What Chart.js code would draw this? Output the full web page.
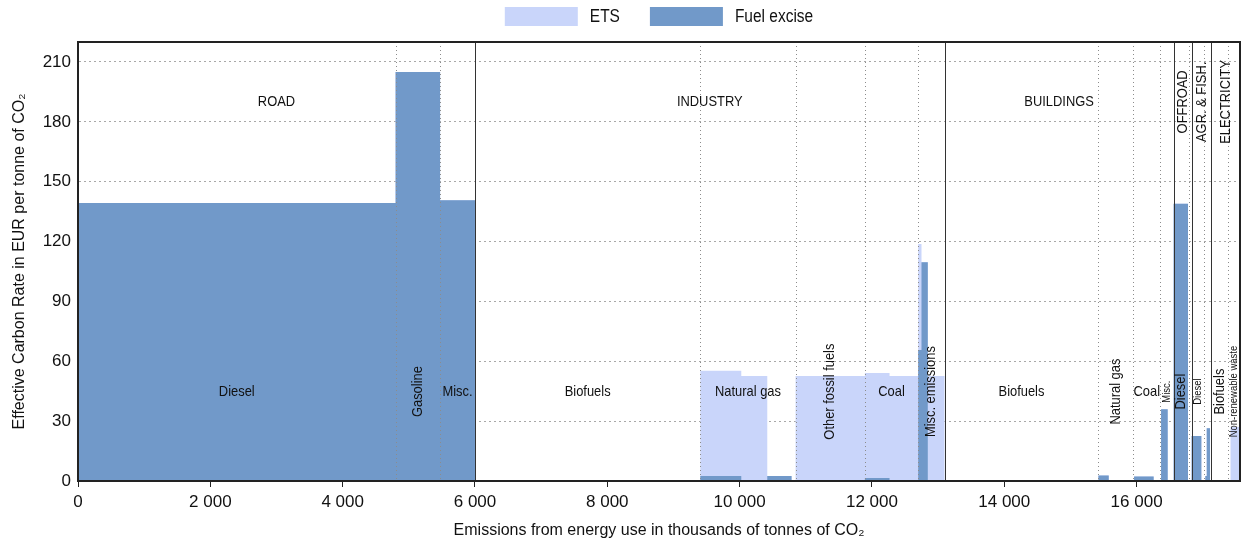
<!DOCTYPE html>
<html>
<head>
<meta charset="utf-8">
<script src="https://cdn.jsdelivr.net/npm/chart.js@4.4.1/dist/chart.umd.min.js"></script>
<style>
  html, body { margin: 0; padding: 0; background: #fff; }
  #wrap { width: 1242px; height: 545px; }
</style>
</head>
<body>
<div id="wrap"><canvas id="ecr" width="1242" height="545"></canvas></div>
<script>
// emissions axis (thousand t CO2): each segment starts at segStart and runs to the next one
const xEnd = 17563;
const segStart = [0, 4800, 5473, 6000, 9406, 10025, 10418, 10785, 10846, 11893, 12266, 12699, 12749, 12844,
	13097, 15423, 15579, 15962, 16258, 16370, 16470, 16560, 16777, 16832, 16979, 17039, 17060, 17110, 17420];
const exciseRate = [139.3, 205, 140.7, 0, 2.5, 0, 2.5, 0, 0, 1.5, 0, 65.6, 109.6, 0,
	0, 2.7, 0, 2.2, 0, 35.9, 0, 139, 0, 22.5, 0, 2.5, 26.4, 0, 0];
const etsRate = [0, 0, 0, 0, 52.8, 52.6, 0, 0, 52.6, 52.6, 52.6, 53.2, 0, 52.6,
	0, 0, 0, 0, 0, 0, 0, 0, 0, 0, 0, 0, 0, 0, 27];

// sectors
const sectorNames = ['ROAD', 'INDUSTRY', 'BUILDINGS', 'OFFROAD', 'AGR. & FISH.', 'ELECTRICITY'];
const sectorStart = [0, 6000, 13097, 16560, 16832, 17130];

// fuels inside the sectors
const fuelNames = ['Diesel', 'Gasoline', 'Misc.',
	'Biofuels', 'Natural gas', 'Other fossil fuels', 'Coal', 'Misc. emissions',
	'Biofuels', 'Natural gas', 'Coal', 'Misc.',
	'Diesel', '',
	'Diesel', '',
	'Biofuels', 'Non-renewable waste'];
const fuelStart = [0, 4800, 5473,
	6000, 9406, 10846, 11893, 12699,
	13097, 15423, 15952, 16355,
	16560, 16786,
	16832, 17024,
	17130, 17381];

const yTicks = [0, 30, 60, 90, 120, 150, 180, 210];
const xTicks = [0, 2000, 4000, 6000, 8000, 10000, 12000, 14000, 16000];

// label style: 'h' horizontal, 'v' vertical, 's' small vertical
const fuelLabelMode = ['h', 'v', 'h', 'h', 'h', 'v', 'h', 'v', 'h', 'v', 'h', 's', 'v', 'h', 's', 'h', 'v', 's'];
const sectorLabelMode = ['h', 'h', 'h', 'v', 'v', 'v'];

const FONT = "'Liberation Sans', Arial, sans-serif";
const colEts = '#c9d5fa';
const colExcise = '#7199c9';

function steps(values) {
	const pts = segStart.map((s, i) => ({x: s, y: values[i]}));
	pts.push({x: xEnd, y: values[values.length - 1]});
	return pts;
}
const totalRate = exciseRate.map((v, i) => v + etsRate[i]);

function fmt(v) {
	return String(v).replace(/\B(?=(\d{3})+(?!\d))/g, ' ');
}

// narrow-looking text (the original uses a condensed face)
function narrowText(c, text, x, y, size, vertical, align) {
	c.save();
	c.translate(x, y);
	if (vertical) c.rotate(-Math.PI / 2);
	c.scale(0.86, 1);
	c.font = size + 'px ' + FONT;
	c.textAlign = align || 'center';
	c.textBaseline = 'middle';
	c.fillText(text, 0, 0);
	c.restore();
}
function narrowWidth(c, text, size) {
	c.save();
	c.font = size + 'px ' + FONT;
	const w = c.measureText(text).width * 0.86;
	c.restore();
	return w;
}

const overlay = {
	id: 'overlay',
	afterDatasetsDraw(chart) {
		const c = chart.ctx;
		const xs = chart.scales.x, ys = chart.scales.y;
		const a = chart.chartArea;
		c.save();
		// dotted fuel boundaries
		c.strokeStyle = '#8c8c8c';
		c.lineWidth = 1;
		c.setLineDash([1, 3]);
		fuelStart.forEach(v => {
			if (sectorStart.includes(v)) return;
			const px = Math.round(xs.getPixelForValue(v)) + 0.5;
			c.beginPath(); c.moveTo(px, a.top); c.lineTo(px, a.bottom); c.stroke();
		});
		// solid sector boundaries
		c.setLineDash([]);
		c.strokeStyle = '#333';
		sectorStart.forEach(v => {
			if (v === 0) return;
			const px = Math.round(xs.getPixelForValue(v)) + 0.5;
			c.beginPath(); c.moveTo(px, a.top); c.lineTo(px, a.bottom); c.stroke();
		});
		// frame
		c.lineWidth = 2;
		c.strokeStyle = '#222';
		c.strokeRect(a.left, a.top, a.right - a.left, a.bottom - a.top);

		c.fillStyle = '#111';
		// sector labels
		sectorNames.forEach((name, i) => {
			const end = i < sectorStart.length - 1 ? sectorStart[i + 1] : xEnd;
			const px = xs.getPixelForValue((sectorStart[i] + end) / 2);
			narrowText(c, name, px, ys.getPixelForValue(190), 15, sectorLabelMode[i] === 'v');
		});
		// fuel labels
		fuelNames.forEach((name, i) => {
			if (!name) return;
			const end = i < fuelStart.length - 1 ? fuelStart[i + 1] : xEnd;
			const px = xs.getPixelForValue((fuelStart[i] + end) / 2);
			const mode = fuelLabelMode[i];
			narrowText(c, name, px, ys.getPixelForValue(44.8), mode === 's' ? 11 : 15, mode !== 'h');
		});

		// legend (ETS first, then Fuel excise)
		const items = chart.data.datasets.slice().reverse();
		const boxW = 73, boxH = 19, gap = 12, spacing = 30, size = 18;
		let total = 0;
		items.forEach((d, i) => { total += boxW + gap + narrowWidth(c, d.label, size) + (i ? spacing : 0); });
		let lx = (a.left + a.right) / 2 - total / 2;
		items.forEach(d => {
			c.fillStyle = d.backgroundColor;
			c.fillRect(lx, 7, boxW, boxH);
			c.fillStyle = '#111';
			narrowText(c, d.label, lx + boxW + gap, 17, size, false, 'left');
			lx += boxW + gap + narrowWidth(c, d.label, size) + spacing;
		});
		c.restore();
	}
};

const ctx = document.getElementById('ecr').getContext('2d');
const chart = new Chart(ctx, {
	type: 'line',
	data: {
		datasets: [{
			label: 'Fuel excise',
			data: steps(exciseRate),
			stepped: true,
			fill: 'origin',
			backgroundColor: colExcise,
			borderColor: colExcise,
			borderWidth: 0,
			pointRadius: 0
		}, {
			label: 'ETS',
			data: steps(totalRate),
			stepped: true,
			fill: 'origin',
			backgroundColor: colEts,
			borderColor: colEts,
			borderWidth: 0,
			pointRadius: 0
		}]
	},
	options: {
		responsive: false,
		animation: false,
		layout: { padding: { left: 0, right: 2, top: 42, bottom: 0 } },
		plugins: {
			tooltip: { enabled: false },
			legend: { display: false }
		},
		scales: {
			x: {
				type: 'linear',
				min: 0,
				max: xEnd,
				afterBuildTicks: (s) => { s.ticks = xTicks.map(v => ({value: v})); },
				afterFit: (s) => { s.height = 64; },
				ticks: {
					color: '#111',
					font: { family: FONT, size: 17 },
					padding: 5,
					maxRotation: 0,
					callback: (v) => fmt(v)
				},
				grid: { drawOnChartArea: false, drawTicks: true, tickLength: 6, color: '#222' },
				border: { color: '#222', width: 2 },
				title: {
					display: true,
					text: 'Emissions from energy use in thousands of tonnes of CO\u2082',
					color: '#111',
					font: { family: FONT, size: 16 },
					padding: { top: 0, bottom: 5 }
				}
			},
			y: {
				min: 0,
				max: 220,
				afterBuildTicks: (s) => { s.ticks = yTicks.map(v => ({value: v})); },
				afterFit: (s) => { s.width = 78; },
				ticks: {
					color: '#111',
					font: { family: FONT, size: 17 },
					padding: 7
				},
				grid: { color: '#a8a8a8', drawTicks: false, tickLength: 0 },
				border: { color: '#222', width: 2, dash: [2, 3] },
				title: {
					display: true,
					text: 'Effective Carbon Rate in EUR per tonne of CO\u2082',
					color: '#111',
					font: { family: FONT, size: 16 },
					padding: { top: 10, bottom: 0 }
				}
			}
		}
	},
	plugins: [overlay]
});
</script>
</body>
</html>
